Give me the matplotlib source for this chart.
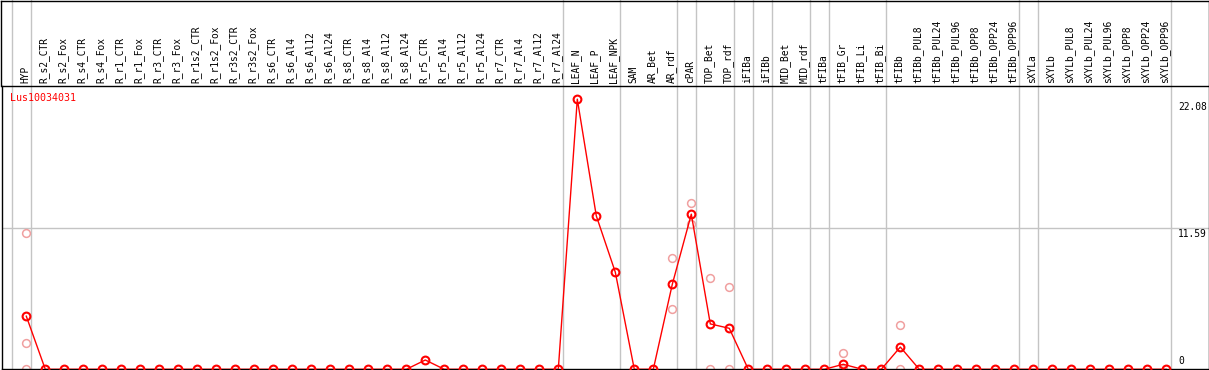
import matplotlib
matplotlib.use("Agg")
import matplotlib.pyplot as plt
from matplotlib.lines import Line2D

gene = "Lus10034031"

samples = ["HYP",
           "R_s2_CTR", "R_s2_Fox", "R_s4_CTR", "R_s4_Fox", "R_r1_CTR", "R_r1_Fox",
           "R_r3_CTR", "R_r3_Fox", "R_r1s2_CTR", "R_r1s2_Fox", "R_r3s2_CTR", "R_r3s2_Fox",
           "R_s6_CTR", "R_s6_Al4", "R_s6_Al12", "R_s6_Al24",
           "R_s8_CTR", "R_s8_Al4", "R_s8_Al12", "R_s8_Al24",
           "R_r5_CTR", "R_r5_Al4", "R_r5_Al12", "R_r5_Al24",
           "R_r7_CTR", "R_r7_Al4", "R_r7_Al12", "R_r7_Al24",
           "LEAF_N", "LEAF_P", "LEAF_NPK",
           "SAM", "AR_Bet", "AR_rdf",
           "cPAR", "TOP_Bet", "TOP_rdf",
           "iFIBa", "iFIBb", "MID_Bet", "MID_rdf",
           "tFIBa", "tFIB_Gr", "tFIB_Li", "tFIB_Bi",
           "tFIBb", "tFIBb_PUL8", "tFIBb_PUL24", "tFIBb_PUL96",
           "tFIBb_OPP8", "tFIBb_OPP24", "tFIBb_OPP96",
           "sXYLa",
           "sXYLb", "sXYLb_PUL8", "sXYLb_PUL24", "sXYLb_PUL96",
           "sXYLb_OPP8", "sXYLb_OPP24", "sXYLb_OPP96"]

# mean expression per sample
means = [4.34] + [0.0] * 20 + [0.76] + [0.0] * 7 + \
        [22.08, 12.54, 7.94,
         0.0, 0.0, 6.95,
         12.68, 3.71, 3.35,
         0.0, 0.0, 0.0, 0.0,
         0.0, 0.41, 0.0, 0.0,
         1.82, 0.0, 0.0, 0.0, 0.0, 0.0, 0.0,
         0.0,
         0.0, 0.0, 0.0, 0.0, 0.0, 0.0, 0.0]

# individual replicate values (sample -> values)
replicates = {
    "HYP": [11.13, 2.13, 0.0],
    "AR_rdf": [9.08, 4.91],
    "cPAR": [13.58, 11.86],
    "TOP_Bet": [7.44, 0.0],
    "TOP_rdf": [6.71, 0.0],
    "tFIB_Gr": [1.31, 0.0],
    "tFIBb": [3.60, 0.0],
}

# last sample index of each group (separator drawn after it)
group_ends = [-1, 0, 28, 31, 34, 35, 37, 38, 39, 41, 42, 45, 52, 53, 60]

ymax_label = 22.08
ymid_label = 11.59
ytop = 23.18

W, H = 1209, 370
fig = plt.figure(figsize=(W / 100, H / 100), dpi=100)
fig.patch.set_facecolor("white")

ax_left, ax_right = 1.5, 1208.5
ax_top, ax_bot = 85.7, 369.3
ax = fig.add_axes([ax_left / W, (H - ax_bot) / H,
                   (ax_right - ax_left) / W, (ax_bot - ax_top) / H])
x0, dx = 26.3, 19.0
ax.set_xlim((ax_left - x0) / dx, (ax_right - x0) / dx)
ax.set_ylim(0, ytop)
ax.set_xticks([])
ax.set_yticks([])
for s in ax.spines.values():
    s.set_color("black")
    s.set_linewidth(1.0)

grey = "#c4c4c4"
ext = (ax_bot) / (ax_bot - ax_top)
for g in group_ends:
    ax.axvline(g + 0.23, ymin=0, ymax=ext, color=grey, lw=1.0, clip_on=False, zorder=1)
ax.axhline(ymid_label, color=grey, lw=1.0, zorder=1)

xs = list(range(len(samples)))
for name, vals in replicates.items():
    i = samples.index(name)
    ax.plot([i] * len(vals), vals, linestyle="none", marker="o", ms=5.6,
            mfc="none", mec="#f0a0a0", mew=1.1, zorder=2, clip_on=False)

ax.plot(xs, means, color="red", lw=1.0, marker="o", ms=5.6, mfc="none",
        mec="red", mew=1.5, zorder=3)

mono = "DejaVu Sans Mono"
fs = 6.9
for i, name in enumerate(samples):
    ax.text(i - 0.07, ytop + 0.25, name, rotation=90, ha="center", va="bottom",
            fontsize=fs, family=mono, color="black", clip_on=False)

ax.text(0.0068, 0.955, gene, transform=ax.transAxes, color="red", fontsize=fs + 0.3,
        family=mono, ha="left", va="center")

xr = (1178 - ax_left) / (ax_right - ax_left)
tr = ax.get_yaxis_transform()
ax.text(xr, ymax_label - 0.25, f"{ymax_label:.2f}", transform=tr, ha="left", va="top",
        fontsize=fs, family=mono)
ax.text(xr, ymid_label - 0.1, f"{ymid_label:.2f}", transform=tr, ha="left", va="top",
        fontsize=fs, family=mono)
ax.text(xr, 0.3, "0", transform=tr, ha="left", va="bottom", fontsize=fs, family=mono)

# outer frame of the label area
for (xa, ya, xb, yb) in [(1.0, H - 0.5, 1208.5, H - 0.5),
                         (1.0, H - 0.5, 1.0, H - ax_top),
                         (1208.5, H - 0.5, 1208.5, H - ax_top)]:
    fig.add_artist(Line2D([xa / W, xb / W], [ya / H, yb / H], color="black", lw=1.0,
                          transform=fig.transFigure))

fig.savefig("out.png", dpi=100)
